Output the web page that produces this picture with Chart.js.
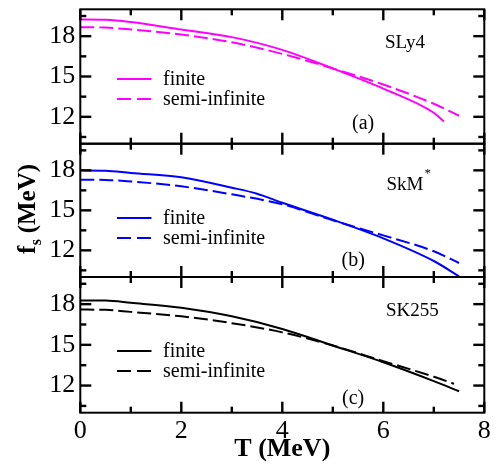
<!DOCTYPE html>
<html><head><meta charset="utf-8">
<script src="https://cdn.jsdelivr.net/npm/chart.js@4.4.0/dist/chart.umd.min.js"></script>
<style>
html,body{margin:0;padding:0;background:#fff;}
#wrap{position:relative;width:502px;height:466px;background:#fff;overflow:hidden;}
#wrap canvas{position:absolute;left:0;}
</style></head><body>
<div id="wrap">
<canvas id="ca" width="502" height="146" style="top:0px"></canvas>
<canvas id="cb" width="502" height="137" style="top:142px"></canvas>
<canvas id="cc" width="502" height="191" style="top:275px"></canvas>
</div>
<script>
// ---- data ----
const xTickLabels = [0, 2, 4, 6, 8];
const xMinorTicks = [1, 3, 5, 7];
const yTickLabels = [12, 15, 18];
const yMinorTicks = [10.5, 13.5, 16.5, 19.5];
const seriesNames = ['finite', 'semi-infinite'];
const panelNames = ['SLy4', 'SkM', 'SK255'];
const panelTags = ['(a)', '(b)', '(c)'];

const T_sly4_fin  = [0, 0.5, 1, 2, 3, 4, 5, 6, 7, 7.2];
const fs_sly4_fin = [19.24, 19.22, 19.05, 18.5, 17.93, 16.98, 15.6, 14.1, 12.3, 11.65];
const T_sly4_semi  = [0, 0.5, 1, 2, 3, 4, 5, 6, 7, 7.5];
const fs_sly4_semi = [18.67, 18.64, 18.5, 18.12, 17.55, 16.68, 15.6, 14.4, 12.97, 12.08];

const T_skm_fin  = [0, 0.5, 1, 2, 3, 3.5, 4, 5, 6, 7, 7.5];
const fs_skm_fin = [18.0, 17.98, 17.8, 17.48, 16.7, 16.25, 15.57, 14.3, 12.9, 11.2, 10.05];
const T_skm_semi  = [0, 0.5, 1, 2, 3, 4, 5, 6, 7, 7.5];
const fs_skm_semi = [17.3, 17.28, 17.17, 16.8, 16.2, 15.45, 14.25, 13.12, 11.93, 11.05];

const T_sk255_fin  = [0, 0.5, 1, 2, 3, 4, 5, 6, 7, 7.5];
const fs_sk255_fin = [18.27, 18.26, 18.1, 17.73, 17.1, 16.17, 14.95, 13.72, 12.33, 11.58];
const T_sk255_semi  = [0, 0.5, 1, 2, 3, 4, 5, 6, 7, 7.4];
const fs_sk255_semi = [17.6, 17.58, 17.43, 17.1, 16.6, 15.92, 14.95, 13.8, 12.65, 12.13];

const pts = (xs, ys) => xs.map((x, i) => ({x: x, y: ys[i]}));

const SERIF = "'Liberation Serif', 'Times New Roman', serif";
Chart.defaults.font.family = SERIF;
Chart.defaults.color = '#000';

const decoPlugin = {
  id: 'deco',
  afterDraw(chart, args, o) {
    const ctx = chart.ctx;
    const a = chart.chartArea;
    const xs = chart.scales.x, ys = chart.scales.y;
    const left = a.left, right = a.right, top = a.top, bottom = a.bottom;
    ctx.save();
    ctx.setLineDash([]);
    ctx.fillStyle = '#000';
    // inward tick marks on all four sides
    const xMarks = [];
    for (const v of xTickLabels) xMarks.push([v, 11]);
    for (const v of xMinorTicks) xMarks.push([v, 6]);
    const yMarks = [];
    for (const v of yTickLabels) yMarks.push([v, 11]);
    for (const v of yMinorTicks) yMarks.push([v, 6]);
    for (const m of xMarks) {
      const px = left + (right - left) * (m[0] - xs.min) / (xs.max - xs.min);
      ctx.fillRect(px - 1.2, top, 2.4, m[1]);
      ctx.fillRect(px - 1.2, bottom - m[1], 2.4, m[1]);
    }
    for (const m of yMarks) {
      const py = ys.getPixelForValue(m[0]);
      ctx.fillRect(left, py - 1.2, m[1], 2.4);
      ctx.fillRect(right - m[1], py - 1.2, m[1], 2.4);
    }
    ctx.strokeStyle = '#000';
    ctx.lineWidth = 2;
    ctx.strokeRect(left, top, right - left, bottom - top);

    // legend
    ctx.font = '20px ' + SERIF;
    ctx.textBaseline = 'middle';
    ctx.textAlign = 'left';
    ctx.strokeStyle = o.color;
    o.legendY.forEach((dy, i) => {
      const y = top + dy;
      ctx.setLineDash(i === 0 ? [] : [14, 6]);
      ctx.beginPath();
      ctx.moveTo(117, y); ctx.lineTo(151.5, y);
      ctx.stroke();
      ctx.fillText(seriesNames[i], 163, y + 1);
    });
    ctx.setLineDash([]);

    // panel name and tag
    ctx.textBaseline = 'alphabetic';
    ctx.font = '19px ' + SERIF;
    ctx.fillText(o.name, o.namePos[0], top + o.namePos[1]);
    if (o.sup) {
      const w = ctx.measureText(o.name).width;
      ctx.font = '13px ' + SERIF;
      ctx.fillText(o.sup, o.namePos[0] + w + 1, top + o.namePos[1] - 13);
    }
    ctx.font = '20px ' + SERIF;
    ctx.fillText(o.tag, o.tagPos[0], top + o.tagPos[1]);

    // shared y-axis title (drawn on the middle panel's canvas)
    if (o.yTitle) {
      ctx.save();
      ctx.translate(35, o.yTitle);
      ctx.rotate(-Math.PI / 2);
      ctx.textBaseline = 'alphabetic';
      ctx.font = 'bold 25px ' + SERIF;
      const wf = ctx.measureText('f').width;
      const wr = ctx.measureText(' (MeV)').width;
      ctx.font = 'bold 16px ' + SERIF;
      const wsub = ctx.measureText('s').width;
      const x0 = -(wf + wsub + wr) / 2;
      ctx.font = 'bold 25px ' + SERIF;
      ctx.fillText('f', x0, 0);
      ctx.font = 'bold 16px ' + SERIF;
      ctx.fillText('s', x0 + wf + 0.5, 6);
      ctx.font = 'bold 25px ' + SERIF;
      ctx.fillText(' (MeV)', x0 + wf + wsub, 0);
      ctx.restore();
    }
    ctx.restore();
  }
};

function makeChart(id, color, finPts, semiPts, pad, showX, deco) {
  const cfg = {
    type: 'line',
    data: {
      datasets: [
        {label: seriesNames[0], data: finPts, borderColor: color, borderWidth: 2, pointRadius: 0,
         cubicInterpolationMode: 'monotone', fill: false},
        {label: seriesNames[1], data: semiPts, borderColor: color, borderWidth: 2, pointRadius: 0,
         borderDash: [14, 5], cubicInterpolationMode: 'monotone', fill: false}
      ]
    },
    options: {
      responsive: false,
      animation: false,
      devicePixelRatio: 1,
      layout: {padding: pad},
      plugins: {legend: {display: false}, tooltip: {enabled: false}, deco: deco},
      scales: {
        x: {
          type: 'linear', min: 0, max: 8,
          display: showX,
          afterBuildTicks: s => { s.ticks = xTickLabels.map(v => ({value: v})); },
          afterFit: s => { if (showX) s.height = 53.3; s.paddingLeft = 0; s.paddingRight = 0; },
          grid: {display: false, drawTicks: false},
          border: {display: false},
          ticks: {font: {size: 26, family: SERIF}, color: '#000', padding: 3, maxRotation: 0},
          title: {display: showX, text: 'T (MeV)', color: '#000',
                  font: {size: 26, weight: 'bold', family: SERIF}, padding: {top: 0, bottom: 1}}
        },
        y: {
          type: 'linear', min: 10, max: 20,
          afterBuildTicks: s => { s.ticks = yTickLabels.map(v => ({value: v})); },
          afterFit: s => { s.width = 80.3; s.paddingTop = 0; s.paddingBottom = 0; },
          grid: {display: false, drawTicks: false},
          border: {display: false},
          ticks: {font: {size: 26, family: SERIF}, color: '#000', padding: 5}
        }
      }
    },
    plugins: [decoPlugin]
  };
  return new Chart(document.getElementById(id), cfg);
}

// canvas A spans page y 0..146, B 142..279, C 275..466
makeChart('ca', '#ff00ff', pts(T_sly4_fin, fs_sly4_fin), pts(T_sly4_semi, fs_sly4_semi),
  {left: 0, right: 17.7, top: 9.3, bottom: 2.3}, false,
  {color: '#ff00ff', legendY: [69.7, 89.7], name: panelNames[0], namePos: [385, 39], tag: panelTags[0], tagPos: [352, 120]});
makeChart('cb', '#0000ff', pts(T_skm_fin, fs_skm_fin), pts(T_skm_semi, fs_skm_semi),
  {left: 0, right: 17.7, top: 1.7, bottom: 2}, false,
  {color: '#0000ff', legendY: [74.3, 94.3], name: panelNames[1], sup: '*', namePos: [386.5, 46.6], tag: panelTags[1], tagPos: [341.5, 122.5], yTitle: 67});
makeChart('cc', '#000000', pts(T_sk255_fin, fs_sk255_fin), pts(T_sk255_semi, fs_sk255_semi),
  {left: 0, right: 17.7, top: 2, bottom: 0}, true,
  {color: '#000000', legendY: [74, 94], name: panelNames[2], namePos: [386, 38.7], tag: panelTags[2], tagPos: [342, 126.5]});
</script>
</body></html>
